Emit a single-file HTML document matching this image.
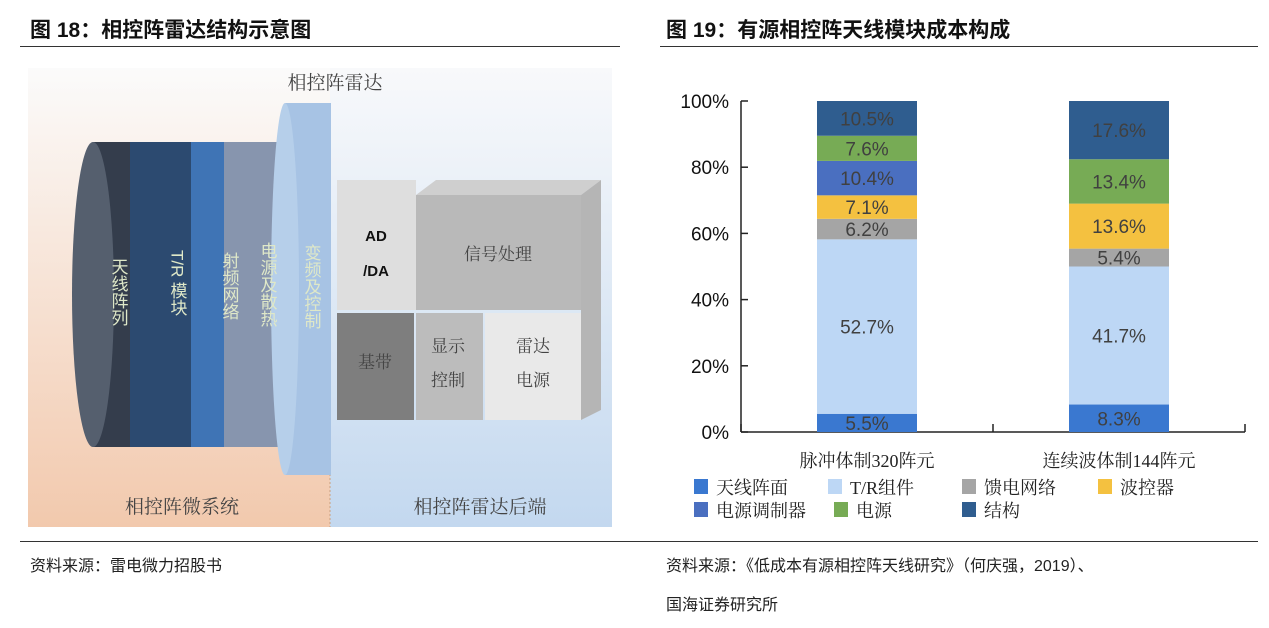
<!DOCTYPE html>
<html><head><meta charset="utf-8">
<style>
body{margin:0;width:1269px;height:628px;background:#fff;position:relative;overflow:hidden;font-family:"Liberation Sans","Noto Sans CJK SC",sans-serif;}
.t{position:absolute;white-space:nowrap;}
</style></head><body>
<div class="t" style="left:30px;top:14px;font-size:21px;font-weight:bold;color:#111">图 18：相控阵雷达结构示意图</div>
<div class="t" style="left:666px;top:14px;font-size:21px;font-weight:bold;color:#111">图 19：有源相控阵天线模块成本构成</div>
<div style="position:absolute;left:20px;top:46px;width:600px;height:1px;background:#333"></div>
<div style="position:absolute;left:660px;top:46px;width:598px;height:1px;background:#333"></div>
<div style="position:absolute;left:20px;top:541px;width:1238px;height:1px;background:#333"></div>
<div class="t" style="left:30px;top:552px;font-size:16px;color:#222">资料来源：雷电微力招股书</div>
<div class="t" style="left:666px;top:552px;font-size:16px;color:#222">资料来源：《低成本有源相控阵天线研究》（何庆强，2019）、</div>
<div class="t" style="left:666px;top:591px;font-size:16px;color:#222">国海证券研究所</div>

<svg style="position:absolute;left:0;top:0" width="630" height="540" font-family="Liberation Serif,Noto Serif CJK SC,serif">
<defs>
<linearGradient id="pe" x1="0" y1="0" x2="0" y2="1"><stop offset="0" stop-color="#fbfbfb"/><stop offset="0.35" stop-color="#f8e9df"/><stop offset="1" stop-color="#f2c9ad"/></linearGradient>
<linearGradient id="bl" x1="0" y1="0" x2="0" y2="1"><stop offset="0" stop-color="#f8f9fb"/><stop offset="0.4" stop-color="#e3ecf6"/><stop offset="1" stop-color="#c3d8ef"/></linearGradient>
</defs>
<rect x="28" y="68" width="302" height="459" fill="url(#pe)"/>
<rect x="330" y="68" width="282" height="459" fill="url(#bl)"/>
<line x1="330" y1="470" x2="330" y2="527" stroke="#c9a080" stroke-dasharray="2,2"/>
<g>
<path d="M270 142 L280 142 Q300 295 280 447 L270 447 Z" fill="#8795ae"/>
<rect x="224" y="142" width="50" height="305" fill="#8795ae"/>
<rect x="191" y="142" width="33" height="305" fill="#3f74b5"/>
<rect x="130" y="142" width="61" height="305" fill="#2c4a70"/>
<rect x="93" y="142" width="37" height="305" fill="#343d4c"/>
<ellipse cx="93" cy="294.5" rx="21" ry="152.5" fill="#555f6e"/>
</g>
<g>
<rect x="285" y="103" width="46" height="372" fill="#a7c3e4"/>
<ellipse cx="285" cy="289" rx="14" ry="186" fill="#b6cfea"/>
</g>
<g font-size="17" fill="#dfe8c8" font-family="Liberation Sans,Noto Sans CJK SC,sans-serif">
<text x="118" y="258" writing-mode="tb">天线阵列</text>
<text x="177" y="250" writing-mode="tb">T/R 模块</text>
<text x="229" y="252" writing-mode="tb">射频网络</text>
<text x="267" y="242" writing-mode="tb">电源及散热</text>
<text x="311" y="244" writing-mode="tb">变频及控制</text>
</g>
<rect x="337" y="180" width="79" height="130" fill="#dedede"/>
<polygon points="416,195 436,180 601,180 581,195" fill="#cfcfcf"/>
<polygon points="581,195 601,180 601,410 581,420" fill="#b5b5b5"/>
<rect x="416" y="195" width="165" height="115" fill="#b9b9b9"/>
<rect x="337" y="313" width="77" height="107" fill="#7e7e7e"/>
<rect x="416" y="313" width="67" height="107" fill="#bcbcbc"/>
<rect x="485" y="313" width="96" height="107" fill="#e9e9e9"/>
<g font-family="Liberation Sans,sans-serif" font-weight="bold" font-size="15" fill="#111" text-anchor="middle">
<text x="376" y="241">AD</text><text x="376" y="276">/DA</text></g>
<g font-size="17" fill="#444" text-anchor="middle">
<text x="498" y="260">信号处理</text>
<text x="375" y="368">基带</text>
<text x="448" y="352">显示</text><text x="448" y="386">控制</text>
<text x="533" y="352">雷达</text><text x="533" y="386">电源</text>
<text x="335" y="89" font-size="19">相控阵雷达</text>
<text x="182" y="513" font-size="19">相控阵微系统</text>
<text x="480" y="513" font-size="19">相控阵雷达后端</text>
</g>
</svg>

<svg id="chart" style="position:absolute;left:0;top:0" width="1269" height="540" font-family="Liberation Sans,Noto Sans CJK SC,sans-serif"></svg>
<script>
const categories=["脉冲体制320阵元","连续波体制144阵元"];
const seriesNames=["天线阵面","T/R组件","馈电网络","波控器","电源调制器","电源","结构"];
const seriesColors=["#3a78d0","#bdd7f5","#a5a5a5","#f4c140","#4a6fc0","#77ab55","#2f5d8f"];
const bar1=[5.5,52.7,6.2,7.1,10.4,7.6,10.5];
const bar2=[8.3,41.7,5.4,13.6,0,13.4,17.6];
const yTicks=[0,20,40,60,80,100];
const NS="http://www.w3.org/2000/svg";
const svg=document.getElementById("chart");
const X0=741,X1=1245,Y0=432,Y1=101;
const y=v=>Y0-(v/100)*(Y0-Y1);
const band=(X1-X0)/categories.length;
const xc=i=>X0+band*(i+0.5);
function mk(t,a){const e=document.createElementNS(NS,t);for(const k in a)e.setAttribute(k,a[k]);svg.appendChild(e);return e;}
let ax=mk("line",{x1:X0,y1:Y0,x2:X1,y2:Y0,stroke:"#222","stroke-width":1.5});


let ay=mk("line",{x1:X0,y1:Y0,x2:X0,y2:Y1,stroke:"#222","stroke-width":1.5});


for(let i=0;i<=categories.length;i++){mk("line",{x1:X0+band*i,y1:Y0,x2:X0+band*i,y2:Y0-8,stroke:"#222","stroke-width":1.5});}
yTicks.forEach(v=>{
 mk("line",{x1:X0,y1:y(v),x2:X0+7,y2:y(v),stroke:"#222","stroke-width":1.5});
 const t=mk("text",{x:X0-12,y:y(v)+7,"text-anchor":"end","font-size":19,fill:"#111"});t.textContent=v+"%";
 
 
});
[bar1,bar2].forEach((vals,i)=>{
 let acc=0;const w=100,x=xc(i)-w/2;
 vals.forEach((v,j)=>{
  if(v<=0){return;}
  const r=mk("rect",{x:x,y:y(acc+v),width:w,height:y(acc)-y(acc+v),fill:seriesColors[j]});
  
  
  const t=mk("text",{x:xc(i),y:(y(acc)+y(acc+v))/2+7,"text-anchor":"middle","font-size":19,fill:"#404040"});
  t.textContent=v.toFixed(1)+"%";
  
  
  acc+=v;
 });
 const c=mk("text",{x:xc(i),y:467,"text-anchor":"middle","font-size":18,fill:"#222","font-family":"Liberation Serif,Noto Serif CJK SC,serif"});
 c.textContent=categories[i];
 
 
});
const legPos=[[694,487],[828,487],[962,487],[1098,487],[694,510],[834,510],[962,510]];
seriesNames.forEach((n,j)=>{
 const g=document.createElementNS(NS,"g");svg.appendChild(g);
 
 
 const r=document.createElementNS(NS,"rect");
 r.setAttribute("x",legPos[j][0]);r.setAttribute("y",legPos[j][1]-8);r.setAttribute("width",14);r.setAttribute("height",15);r.setAttribute("fill",seriesColors[j]);g.appendChild(r);
 const t=document.createElementNS(NS,"text");
 t.setAttribute("x",legPos[j][0]+22);t.setAttribute("y",legPos[j][1]+7);t.setAttribute("font-size",18);t.setAttribute("fill","#222");t.setAttribute("font-family","Liberation Serif,Noto Serif CJK SC,serif");
 t.textContent=n;g.appendChild(t);
});
</script>
</body></html>
